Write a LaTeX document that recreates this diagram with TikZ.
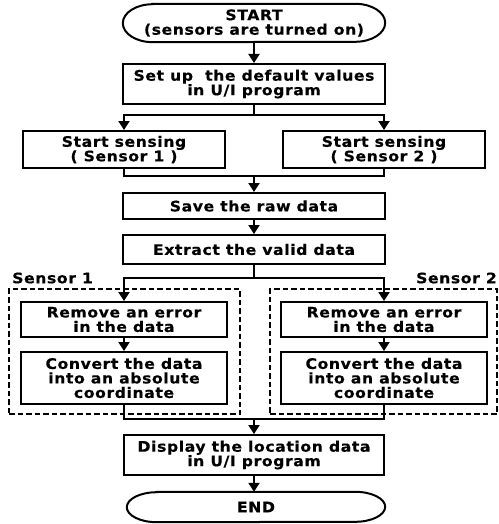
\documentclass[tikz,border=0pt]{standalone}
\usepackage{fontspec}
\setmainfont{DejaVu Sans}[LetterSpace=4, FakeStretch=1.08, BoldFeatures={FakeBold=0.4}]
\usetikzlibrary{arrows.meta}
\newcommand{\lbl}{\bfseries\fontsize{14.5}{14.5}\selectfont}
\begin{document}
\begin{tikzpicture}[x=1pt,y=-1pt,
  box/.style={draw, line width=2pt, align=center, inner sep=0pt, font=\lbl},
  term/.style={align=center, inner sep=0pt, font=\lbl},
  flow/.style={line width=2pt, -{Triangle[width=11pt,length=9pt]}},
  conn/.style={line width=2pt},
  grp/.style={draw, line width=1.6pt, dash pattern=on 5.5pt off 3pt, inner sep=0pt},
  lab/.style={font=\lbl, inner sep=0pt}]
\useasboundingbox (0,0) rectangle (498,524);

% terminals
\node[term, minimum width=262pt, minimum height=38pt] (start) at (254,23) {START\\(sensors are turned on)};
\draw[conn] ([xshift=30pt]start.north west) -- ([xshift=-30pt]start.north east)
  arc[start angle=90, end angle=-90, x radius=30pt, y radius=19pt]
  -- ([xshift=30pt]start.south west)
  arc[start angle=270, end angle=90, x radius=30pt, y radius=19pt] -- cycle;

\node[term, minimum width=258pt, minimum height=30pt] (end) at (256,507) {END};
\draw[conn] ([xshift=30pt]end.north west) -- ([xshift=-30pt]end.north east)
  arc[start angle=90, end angle=-90, x radius=30pt, y radius=15pt]
  -- ([xshift=30pt]end.south west)
  arc[start angle=270, end angle=90, x radius=30pt, y radius=15pt] -- cycle;

% boxes
\node[box, minimum width=262pt, minimum height=40pt] (setup) at (254,84) {Set up~ the default values\\in U/I program};
\node[box, minimum width=202pt, minimum height=37pt] (s1) at (124,149.5) {Start sensing\\( Sensor 1 )};
\node[box, minimum width=202pt, minimum height=37pt] (s2) at (384,149.5) {Start sensing\\( Sensor 2 )};
\node[box, minimum width=262pt, minimum height=26pt] (save) at (254,206) {Save the raw data};
\node[box, minimum width=262pt, minimum height=29pt] (extract) at (254,249.5) {Extract the valid data};

% dashed groups
\node[grp, minimum width=231pt, minimum height=125pt] (g1) at (124.5,351.5) {};
\node[grp, minimum width=227pt, minimum height=125pt] (g2) at (383.5,351.5) {};
\node[lab, anchor=west] (l1) at (12,278) {Sensor 1};
\node[lab, anchor=east] (l2) at (497,278) {Sensor 2};

\node[box, minimum width=206pt, minimum height=35pt] (r1) at (124,319.5) {Remove an error\\in the data};
\node[box, minimum width=206pt, minimum height=35pt] (r2) at (384,319.5) {Remove an error\\in the data};
\node[box, minimum width=206pt, minimum height=52pt] (c1) at (124,378) {Convert the data\\into an absolute\\coordinate};
\node[box, minimum width=206pt, minimum height=52pt] (c2) at (384,378) {Convert the data\\into an absolute\\coordinate};

\node[box, minimum width=260pt, minimum height=40pt] (disp) at (254,455) {Display the location data\\in U/I program};

% junction points
\coordinate (b1) at (254,115);
\coordinate (m1) at (254,176);
\coordinate (b2) at (254,278);
\coordinate (m2) at (254,419);

% connectors
\draw[flow] (start) -- (setup);
\draw[conn] (setup.south) -- (b1);
\draw[flow] (b1) -| (s1.north);
\draw[flow] (b1) -| (s2.north);
\draw[conn] (s1.south) |- (m1);
\draw[conn] (s2.south) |- (m1);
\draw[flow] (m1) -- (save);
\draw[flow] (save) -- (extract);
\draw[conn] (extract.south) -- (b2);
\draw[flow] (b2) -| (r1.north);
\draw[flow] (b2) -| (r2.north);
\draw[flow] (r1) -- (c1);
\draw[flow] (r2) -- (c2);
\draw[conn] (c1.south) |- (m2);
\draw[conn] (c2.south) |- (m2);
\draw[flow] (m2) -- (disp);
\draw[flow] (disp) -- (disp.south |- end.north);
\end{tikzpicture}
\end{document}
